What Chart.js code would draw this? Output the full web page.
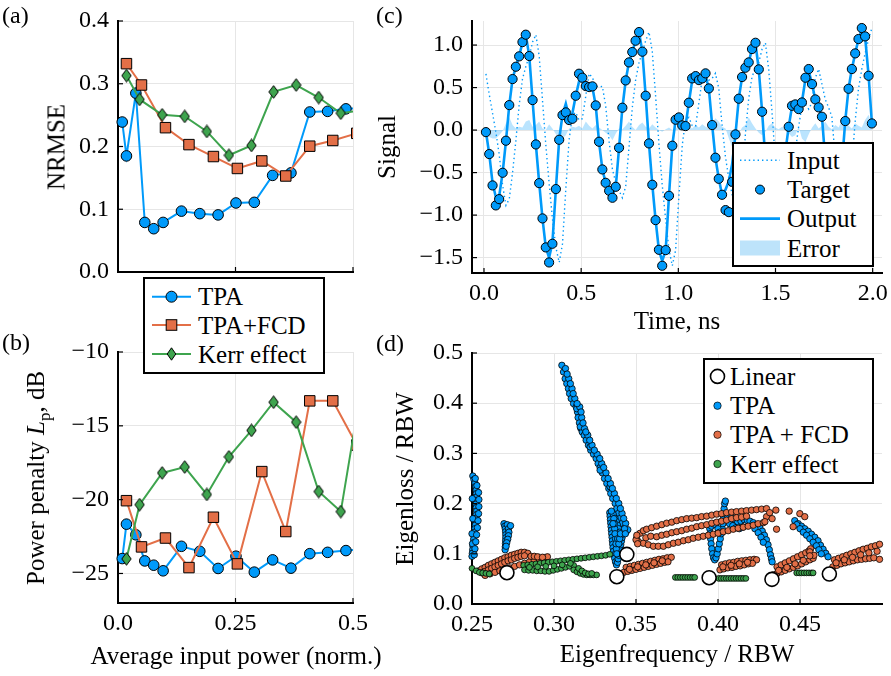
<!DOCTYPE html>
<html>
<head>
<meta charset="utf-8">
<script src="https://cdn.jsdelivr.net/npm/chart.js@4.4.0/dist/chart.umd.min.js"></script>
<style>
  html, body { margin: 0; padding: 0; background: #fff; }
  #wrap { position: relative; width: 891px; height: 676px; overflow: hidden; font-family: 'Liberation Serif', 'Times New Roman', serif; color: #000; }
  #wrap canvas { position: absolute; left: 0; top: 0; }
  .t { position: absolute; white-space: nowrap; line-height: 1; font-size: 25px; transform: translate(-50%, -50%); }
  .r { transform: translate(-50%, -50%) rotate(-90deg); }
  .lab { position: absolute; font-size: 24px; line-height: 1; }
  svg.leg { position: absolute; z-index: 5; }
  svg.leg text { font-family: 'Liberation Serif', 'Times New Roman', serif; font-size: 25px; fill: #000; }
</style>
</head>
<body>
<div id="wrap">
  <canvas id="ca" width="891" height="676"></canvas>
  <canvas id="cb" width="891" height="676"></canvas>
  <canvas id="cc" width="891" height="676"></canvas>
  <canvas id="cd" width="891" height="676"></canvas>

  <div class="lab" style="left:2px;top:3px">(a)</div>
  <div class="lab" style="left:2px;top:330px">(b)</div>
  <div class="lab" style="left:376px;top:3px">(c)</div>
  <div class="lab" style="left:376px;top:331px">(d)</div>

  <div class="t r" style="left:56px;top:147px">NRMSE</div>
  <div class="t r" style="left:38px;top:478px">Power penalty <i>L</i><sub style="font-size:17px">p</sub>, dB</div>
  <div class="t" style="left:236px;top:655px">Average input power (norm.)</div>
  <div class="t r" style="left:386px;top:147px">Signal</div>
  <div class="t" style="left:677px;top:320px">Time, ns</div>
  <div class="t r" style="left:404px;top:479px">Eigenloss / RBW</div>
  <div class="t" style="left:677px;top:653px">Eigenfrequency / RBW</div>

  <!-- legend (a)/(b) -->
  <svg class="leg" style="left:143px;top:277px" width="182" height="97">
    <rect x="1" y="1" width="180" height="95" fill="#fff" stroke="#000" stroke-width="2"/>
    <line x1="9" y1="19.7" x2="48" y2="19.7" stroke="#009AFA" stroke-width="2"/>
    <circle cx="28.5" cy="19.7" r="5.5" fill="#009AFA" stroke="#000" stroke-width="1"/>
    <text x="55" y="28">TPA</text>
    <line x1="9" y1="48" x2="48" y2="48" stroke="#E36F47" stroke-width="2"/>
    <rect x="23.2" y="42.7" width="10.6" height="10.6" fill="#E36F47" stroke="#000" stroke-width="1"/>
    <text x="55" y="56.5">TPA+FCD</text>
    <line x1="9" y1="77" x2="48" y2="77" stroke="#3EA44E" stroke-width="2"/>
    <polygon points="28.5,70.8 32.8,77 28.5,83.2 24.2,77" fill="#3EA44E" stroke="#000" stroke-width="1"/>
    <text x="55" y="85.5">Kerr effect</text>
  </svg>

  <!-- legend (c) -->
  <svg class="leg" style="left:732px;top:142px" width="142" height="125">
    <rect x="1" y="1" width="140" height="123" fill="#fff" stroke="#000" stroke-width="2"/>
    <line x1="8" y1="18.3" x2="48" y2="18.3" stroke="#009AFA" stroke-width="1.4" stroke-dasharray="1.4 3"/>
    <text x="55" y="26.8">Input</text>
    <circle cx="28" cy="47.6" r="4.5" fill="#009AFA" stroke="#000" stroke-width="1"/>
    <text x="55" y="56.1">Target</text>
    <line x1="8" y1="76.6" x2="48" y2="76.6" stroke="#009AFA" stroke-width="2.6"/>
    <text x="55" y="85.1">Output</text>
    <rect x="8" y="98.5" width="40" height="15" fill="#BDE3FA"/>
    <text x="55" y="114.5">Error</text>
  </svg>

  <!-- legend (d) -->
  <svg class="leg" style="left:703px;top:358px" width="171" height="126">
    <rect x="1" y="1" width="169" height="124" fill="#fff" stroke="#000" stroke-width="2"/>
    <circle cx="14.5" cy="18.4" r="7" fill="#fff" stroke="#000" stroke-width="1.6"/>
    <text x="27" y="26.9">Linear</text>
    <circle cx="14.5" cy="47.7" r="3.7" fill="#009AFA" stroke="#000" stroke-width="0.7"/>
    <text x="27" y="56.2">TPA</text>
    <circle cx="14.5" cy="76.7" r="3.7" fill="#E36F47" stroke="#000" stroke-width="0.7"/>
    <text x="27" y="85.2">TPA + FCD</text>
    <circle cx="14.5" cy="106" r="3.7" fill="#3EA44E" stroke="#000" stroke-width="0.7"/>
    <text x="27" y="114.5">Kerr effect</text>
  </svg>
</div>

<script>
// ---------------- DATA ----------------
// (a)/(b): average input power (normalised) per series
const powerTPA  = [0.009, 0.018, 0.038, 0.057, 0.076, 0.096, 0.135, 0.174, 0.213, 0.251, 0.290, 0.329, 0.368, 0.408, 0.446, 0.485, 0.524];
const nrmseTPA  = [0.239, 0.185, 0.285, 0.079, 0.069, 0.079, 0.097, 0.093, 0.091, 0.110, 0.111, 0.154, 0.158, 0.255, 0.256, 0.260, 0.261];
const penaltyTPA = [-23.99, -21.66, -22.38, -24.15, -24.44, -24.82, -23.16, -23.50, -24.66, -23.83, -24.91, -24.08, -24.64, -23.66, -23.57, -23.45, -23.35];

const powerFCD  = [0.018, 0.050, 0.101, 0.151, 0.203, 0.254, 0.306, 0.357, 0.408, 0.457, 0.508];
const nrmseFCD  = [0.332, 0.298, 0.230, 0.203, 0.184, 0.165, 0.177, 0.153, 0.2005, 0.2096, 0.221];
const penaltyFCD = [-20.07, -23.20, -22.60, -24.60, -21.19, -24.35, -18.10, -22.16, -13.31, -13.31, -16.30];

const powerKerr = [0.018, 0.046, 0.094, 0.142, 0.189, 0.236, 0.284, 0.331, 0.379, 0.427, 0.474, 0.521];
const nrmseKerr = [0.313, 0.275, 0.2505, 0.248, 0.224, 0.186, 0.2016, 0.287, 0.298, 0.278, 0.253, 0.258];
const penaltyKerr = [-24.01, -20.34, -18.19, -17.79, -19.65, -17.10, -15.31, -13.40, -14.75, -19.45, -20.81, -11.80];

const powerTicks = [0, 0.25, 0.5];
const powerTickLabels = ['0.0', '0.25', '0.5'];
const nrmseTicks = [0, 0.1, 0.2, 0.3, 0.4];
const nrmseTickLabels = ['0.0', '0.1', '0.2', '0.3', '0.4'];
const penaltyTicks = [-25, -20, -15, -10];
const penaltyTickLabels = ['\u221225', '\u221220', '\u221215', '\u221210'];

// (c): time series (ns)
const cTime = [0.010,0.027,0.044,0.061,0.078,0.096,0.113,0.130,0.147,0.164,
  0.181,0.198,0.215,0.233,0.250,0.267,0.284,0.301,0.318,0.335,
  0.352,0.370,0.387,0.404,0.421,0.438,0.455,0.472,0.489,0.506,
  0.524,0.541,0.558,0.575,0.592,0.609,0.626,0.644,0.661,0.678,
  0.695,0.712,0.729,0.746,0.763,0.780,0.798,0.815,0.832,0.849,
  0.866,0.883,0.900,0.917,0.935,0.952,0.969,0.986,1.003,1.020,
  1.037,1.054,1.071,1.089,1.106,1.123,1.140,1.157,1.174,1.191,
  1.208,1.225,1.243,1.260,1.277,1.294,1.311,1.328,1.345,1.362,
  1.379,1.397,1.414,1.431,1.448,1.465,1.482,1.499,1.516,1.534,
  1.551,1.568,1.585,1.602,1.619,1.636,1.654,1.671,1.688,1.705,
  1.722,1.739,1.756,1.773,1.790,1.808,1.825,1.842,1.859,1.876,
  1.893,1.910,1.927,1.944,1.961,1.979,1.996];
const cTarget = [-0.024,-0.282,-0.651,-0.886,-0.812,-0.502,-0.125,0.294,0.600,0.745,
  0.867,1.035,1.122,0.871,0.353,-0.169,-0.624,-1.039,-1.380,-1.557,
  -1.337,-0.694,-0.114,0.176,0.208,0.118,0.133,0.404,0.663,0.616,
  0.518,0.506,0.514,0.290,-0.137,-0.463,-0.620,-0.714,-0.796,-0.667,
  -0.208,0.263,0.584,0.796,0.918,1.051,1.153,0.922,0.404,-0.157,
  -0.643,-1.059,-1.408,-1.596,-1.412,-0.773,-0.184,0.122,0.149,0.055,
  0.047,0.322,0.608,0.635,0.588,0.608,0.667,0.490,0.059,-0.325,
  -0.573,-0.761,-0.941,-0.965,-0.608,-0.051,0.369,0.624,0.733,0.796,
  0.953,1.027,0.714,0.216,-0.350,-0.850,-1.250,-1.380,-1.150,-0.700,
  -0.250,0.039,0.286,0.302,0.247,0.325,0.616,0.718,0.541,0.361,
  0.267,0.157,-0.350,-0.750,-1.000,-1.050,-0.800,-0.400,0.106,0.486,
  0.718,0.902,1.071,1.200,1.102,0.639,0.078];
const cOutput = [-0.02,-0.28,-0.62,-0.79,-0.78,-0.50,-0.13,0.29,0.60,0.75,
  0.87,1.03,1.12,0.87,0.35,-0.17,-0.62,-1.04,-1.38,-1.50,
  -1.33,-0.69,-0.11,0.18,0.31,0.15,0.20,0.40,0.57,0.58,
  0.54,0.52,0.50,0.29,-0.14,-0.46,-0.62,-0.71,-0.77,-0.67,
  -0.21,0.26,0.58,0.80,0.92,1.05,1.15,0.92,0.40,-0.16,
  -0.64,-1.06,-1.41,-1.54,-1.41,-0.77,-0.18,0.12,0.15,0.06,
  0.05,0.32,0.58,0.62,0.60,0.61,0.64,0.49,0.06,-0.33,
  -0.57,-0.76,-0.70,-0.60,-0.40,-0.05,0.37,0.62,0.73,0.80,
  0.95,1.02,0.71,0.22,-0.35,-0.85,-1.25,-1.38,-1.15,-0.70,
  -0.25,0.04,0.28,0.30,0.26,0.33,0.60,0.70,0.54,0.36,
  0.27,0.16,-0.35,-0.75,-1.00,-1.05,-0.80,-0.40,0.11,0.49,
  0.72,0.90,1.07,1.18,1.10,0.64,0.08];
const cInput = [0.66,0.42,0.20,-0.024,-0.282,-0.651,-0.886,-0.812,-0.502,-0.125,
  0.294,0.600,0.745,0.867,1.035,1.122,0.871,0.353,-0.169,-0.624,
  -1.039,-1.380,-1.557,-1.337,-0.694,-0.114,0.176,0.208,0.118,0.133,
  0.404,0.663,0.616,0.518,0.506,0.514,0.290,-0.137,-0.463,-0.620,
  -0.714,-0.796,-0.667,-0.208,0.263,0.584,0.796,0.918,1.051,1.153,
  0.922,0.404,-0.157,-0.643,-1.059,-1.408,-1.596,-1.412,-0.773,-0.184,
  0.122,0.149,0.055,0.047,0.322,0.608,0.635,0.588,0.608,0.667,
  0.490,0.059,-0.325,-0.573,-0.761,-0.941,-0.965,-0.608,-0.051,0.369,
  0.624,0.733,0.796,0.953,1.027,0.714,0.216,-0.350,-0.850,-1.250,
  -1.380,-1.150,-0.700,-0.250,0.039,0.286,0.302,0.247,0.325,0.616,
  0.718,0.541,0.361,0.267,0.157,-0.350,-0.750,-1.000,-1.050,-0.800,
  -0.400,0.106,0.486,0.718,0.902,1.071,1.200];
const cError = [-0.03,-0.08,-0.10,-0.10,-0.06,-0.01,0.08,0.15,0.06,0.02,
  0.04,0.03,0.10,0.12,0.04,0.06,0.10,0.02,0.00,0.07,
  0.02,-0.05,-0.08,-0.10,-0.06,0.02,0.04,0.03,0.05,0.02,
  0.10,0.05,0.02,0.06,0.03,0.00,-0.03,-0.06,-0.12,-0.04,
  0.02,0.01,0.05,0.10,0.04,0.00,0.06,0.09,0.04,0.02,
  0.07,0.03,0.00,-0.02,0.01,0.03,0.00,0.02,0.05,0.03,
  0.01,0.04,0.02,0.06,0.03,0.07,0.04,0.02,0.08,0.14,
  0.10,0.04,0.02,-0.10,-0.20,-0.12,-0.04,0.03,0.06,0.15,
  0.08,0.02,-0.03,-0.06,-0.02,0.05,0.08,0.03,0.01,0.04,
  0.02,-0.04,-0.08,-0.06,0.04,-0.10,-0.14,-0.05,0.03,0.08,
  0.02,0.05,0.10,0.04,0.01,0.06,0.03,0.12,0.18,0.05,
  0.02,0.08,0.05,0.03,0.12,0.18,0.06];
const timeTicks = [0, 0.5, 1, 1.5, 2];
const timeTickLabels = ['0.0', '0.5', '1.0', '1.5', '2.0'];
const signalTicks = [-1.5, -1, -0.5, 0, 0.5, 1];
const signalTickLabels = ['\u22121.5', '\u22121.0', '\u22120.5', '0.0', '0.5', '1.0'];

// (d): [eigenfrequency, eigenloss] / RBW
const dLinear = [[0.2713,0.0623],[0.3383,0.0544],[0.3444,0.0988],[0.3946,0.0524],[0.4329,0.0491],[0.4679,0.0597]];
const dTPA = [
  [0.2505,0.255],[0.2512,0.248],[0.2518,0.241],[0.2522,0.234],[0.2525,0.227],[0.2527,0.220],[0.2528,0.213],[0.2526,0.206],[0.2524,0.199],[0.2526,0.192],[0.2528,0.185],[0.2527,0.178],[0.2525,0.171],[0.2522,0.164],[0.2520,0.157],[0.2518,0.150],[0.2515,0.143],[0.2512,0.136],[0.2510,0.129],[0.2508,0.122],[0.2506,0.115],[0.2504,0.108],[0.2502,0.101],[0.2500,0.095],[0.2502,0.210],[0.2505,0.170],[0.2500,0.140],[0.2503,0.120],
  [0.2520,0.250],[0.2530,0.236],[0.2540,0.222],[0.2542,0.208],[0.2542,0.194],[0.2540,0.180],[0.2537,0.166],[0.2533,0.152],[0.2528,0.138],[0.2523,0.124],[0.2518,0.110],[0.2514,0.098],
  [0.2695,0.160],[0.2700,0.155],[0.2703,0.150],[0.2705,0.144],[0.2706,0.138],[0.2706,0.132],[0.2705,0.126],[0.2704,0.120],[0.2703,0.114],[0.2702,0.108],[0.2715,0.158],[0.2722,0.150],[0.2725,0.143],[0.2722,0.136],[0.2718,0.129],[0.2712,0.122],[0.2708,0.115],[0.2735,0.156],
  [0.3048,0.4755],[0.3058,0.4622],[0.3068,0.4489],[0.3078,0.4390],[0.3088,0.4290],[0.3095,0.4191],[0.3105,0.4092],[0.3119,0.3992],[0.3135,0.3926],[0.3143,0.3826],[0.3147,0.3714],[0.3155,0.3607],[0.3164,0.3495],[0.3172,0.3428],[0.3184,0.3362],[0.3196,0.3263],[0.3210,0.3163],[0.3224,0.3064],[0.3241,0.2984],[0.3257,0.2898],[0.3269,0.2798],[0.3281,0.2719],[0.3295,0.2613],[0.3308,0.2500],[0.3322,0.2401],[0.3334,0.2301],[0.3346,0.2202],[0.3358,0.2102],[0.3373,0.2003],[0.3383,0.1903],[0.3393,0.1804],[0.3403,0.1704],[0.3415,0.1605],[0.3427,0.1505],[0.3440,0.1439],
  [0.3139,0.389],[0.3160,0.353],[0.3220,0.313],[0.3281,0.2666],[0.3342,0.2334],
  [0.3070,0.4690],[0.3090,0.4489],[0.3110,0.4290],[0.3127,0.4092],[0.3157,0.3926],[0.3169,0.3714],[0.3186,0.3495],[0.3206,0.3362],[0.3232,0.3163],[0.3263,0.2984],[0.3291,0.2798],[0.3317,0.2613],[0.3344,0.2401],[0.3368,0.2202],[0.3395,0.2003],[0.3415,0.1804],[0.3437,0.1605],[0.3450,0.1480],
  [0.3080,0.4580],[0.3100,0.4390],[0.3117,0.4191],[0.3141,0.3992],[0.3165,0.3826],[0.3177,0.3607],[0.3194,0.3428],[0.3218,0.3263],[0.3246,0.3064],[0.3279,0.2898],[0.3303,0.2719],[0.3330,0.2500],[0.3356,0.2301],[0.3380,0.2102],[0.3405,0.1903],[0.3425,0.1704],
  [0.3340,0.182],[0.3342,0.175],[0.3344,0.168],[0.3346,0.161],[0.3348,0.154],[0.3350,0.147],[0.3352,0.140],[0.3354,0.133],[0.3356,0.126],[0.3358,0.119],[0.3360,0.112],[0.3363,0.105],[0.3366,0.098],[0.3370,0.091],[0.3375,0.084],[0.3381,0.078],[0.3387,0.083],[0.3391,0.090],[0.3395,0.097],[0.3399,0.104],[0.3403,0.111],[0.3407,0.118],[0.3411,0.125],[0.3415,0.132],[0.3419,0.139],[0.3423,0.146],[0.3362,0.178],[0.3372,0.171],[0.3380,0.164],[0.3387,0.157],[0.3394,0.150],[0.3400,0.143],[0.3370,0.150],[0.3375,0.130],[0.3380,0.110],
  [0.3365,0.170],[0.3368,0.160],[0.3372,0.140],[0.3378,0.120],[0.3383,0.100],[0.3388,0.130],[0.3395,0.120],[0.3400,0.130],[0.3405,0.140],[0.3360,0.160],[0.3350,0.185],[0.3430,0.150],[0.3435,0.140],
  [0.3950,0.150],[0.3952,0.140],[0.3955,0.130],[0.3958,0.120],[0.3962,0.110],[0.3967,0.100],[0.3973,0.092],[0.3980,0.088],[0.3988,0.092],[0.3995,0.100],[0.4002,0.110],[0.4008,0.120],[0.4014,0.130],[0.4020,0.140],[0.4026,0.150],[0.4030,0.160],[0.4033,0.170],[0.4035,0.180],[0.4037,0.190],[0.4040,0.200],[0.4045,0.205],[0.3960,0.155],[0.3970,0.160],[0.3985,0.158],[0.4000,0.150],[0.4010,0.143],
  [0.4060,0.175],[0.4080,0.172],[0.4100,0.168],[0.4120,0.163],[0.4140,0.165],[0.4160,0.168],[0.4180,0.166],[0.4070,0.160],[0.4090,0.156],[0.4110,0.152],[0.4130,0.150],[0.4150,0.153],
  [0.4195,0.165],[0.4215,0.162],[0.4235,0.158],[0.4255,0.152],[0.4270,0.145],[0.4283,0.137],[0.4295,0.128],[0.4305,0.118],[0.4313,0.108],[0.4320,0.098],[0.4326,0.090],[0.4330,0.084],[0.4225,0.150],[0.4245,0.142],[0.4262,0.133],[0.4276,0.123],
  [0.4468,0.166],[0.4489,0.160],[0.4509,0.155],[0.4529,0.150],[0.4550,0.145],[0.4570,0.139],[0.4590,0.133],[0.4610,0.126],[0.4625,0.117],[0.4641,0.109],[0.4657,0.101],[0.4671,0.094],[0.4480,0.158],[0.4500,0.150],[0.4520,0.143],[0.4540,0.137],[0.4560,0.130],[0.4580,0.123],[0.4600,0.116],[0.4615,0.108],[0.4630,0.100]
];
const dFCD = [
  [0.2540,0.066],[0.2560,0.070],[0.2580,0.073],[0.2600,0.077],[0.2620,0.080],[0.2640,0.083],[0.2660,0.086],[0.2680,0.089],[0.2700,0.092],[0.2720,0.094],[0.2740,0.097],[0.2760,0.099],[0.2780,0.101],[0.2800,0.103],[0.2820,0.103],[0.2840,0.101],
  [0.2560,0.062],[0.2580,0.065],[0.2600,0.068],[0.2620,0.071],[0.2640,0.074],[0.2660,0.077],[0.2680,0.080],[0.2700,0.083],[0.2720,0.086],[0.2740,0.088],[0.2760,0.091],[0.2780,0.093],[0.2800,0.095],[0.2820,0.096],
  [0.2580,0.057],[0.2610,0.060],[0.2640,0.063],[0.2670,0.066],[0.2700,0.069],[0.2730,0.072],[0.2760,0.075],[0.2790,0.078],[0.2820,0.081],[0.2850,0.084],[0.2880,0.087],[0.2910,0.089],[0.2940,0.092],[0.2960,0.094],
  [0.2860,0.095],[0.2880,0.095],[0.2900,0.094],[0.2930,0.093],
  [0.3440,0.073],[0.3465,0.075],[0.3490,0.077],[0.3515,0.079],[0.3540,0.081],[0.3565,0.083],[0.3590,0.085],[0.3615,0.087],[0.3640,0.089],[0.3665,0.090],[0.3690,0.092],[0.3715,0.093],
  [0.3425,0.063],[0.3450,0.065],[0.3475,0.067],[0.3500,0.069],[0.3525,0.071],[0.3550,0.073],[0.3575,0.075],[0.3600,0.077],[0.3625,0.079],[0.3650,0.081],[0.3675,0.083],[0.3695,0.084],
  [0.3460,0.069],[0.3510,0.074],[0.3560,0.078],[0.3610,0.082],[0.3660,0.086],
  [0.3504,0.131],[0.3525,0.141],[0.3545,0.146],[0.3565,0.149],[0.3595,0.152],[0.3626,0.155],[0.3657,0.158],[0.3687,0.161],[0.3718,0.163],[0.3748,0.166],[0.3779,0.168],[0.3809,0.170],[0.3840,0.171],[0.3870,0.172],[0.3900,0.174],[0.3931,0.175],[0.3962,0.177],[0.3992,0.179],[0.4022,0.180],[0.4052,0.182],[0.4083,0.183],[0.4113,0.184],[0.4144,0.185],[0.4174,0.186],[0.4205,0.187],[0.4235,0.188],[0.4266,0.189],[0.4296,0.190],
  [0.3515,0.124],[0.3545,0.121],[0.3575,0.118],[0.3606,0.115],[0.3636,0.115],[0.3667,0.115],[0.3697,0.118],[0.3728,0.121],[0.3758,0.123],[0.3789,0.126],[0.3819,0.128],[0.3849,0.131],[0.3880,0.133],[0.3910,0.135],[0.3941,0.137],[0.3971,0.139],[0.4001,0.141],[0.4032,0.144],[0.4062,0.146],[0.4093,0.149],[0.4123,0.151],[0.4154,0.153],[0.4184,0.155],[0.4215,0.157],[0.4245,0.160],[0.4276,0.162],
  [0.3560,0.132],[0.3590,0.135],[0.3626,0.134],[0.3657,0.137],[0.3687,0.139],[0.3718,0.142],[0.3748,0.144],[0.3779,0.146],[0.3809,0.149],[0.3840,0.151],[0.3870,0.154],[0.3900,0.156],[0.3931,0.158],[0.3962,0.161],[0.3992,0.163],[0.4022,0.165],[0.4052,0.167],[0.4083,0.170],[0.4113,0.172],[0.4144,0.173],[0.4174,0.175],
  [0.4353,0.187],[0.4434,0.185],[0.4499,0.180],[0.4529,0.174],[0.4357,0.149],[0.4458,0.154],[0.4296,0.174],[0.4286,0.164],[0.4315,0.182],[0.4330,0.170],
  [0.3500,0.128],[0.3505,0.137],[0.3510,0.120],
  [0.4022,0.078],[0.4045,0.080],[0.4070,0.082],[0.4095,0.083],[0.4120,0.085],[0.4145,0.086],[0.4170,0.087],[0.4195,0.088],[0.4220,0.089],[0.4235,0.088],
  [0.4012,0.068],[0.4035,0.070],[0.4060,0.072],[0.4085,0.073],[0.4110,0.075],[0.4135,0.076],[0.4160,0.078],[0.4185,0.080],[0.4210,0.081],
  [0.4030,0.074],[0.4080,0.077],[0.4130,0.080],[0.4180,0.083],
  [0.4360,0.074],[0.4385,0.078],[0.4410,0.082],[0.4435,0.086],[0.4460,0.090],[0.4485,0.094],[0.4510,0.098],[0.4535,0.102],[0.4555,0.106],[0.4565,0.110],[0.4560,0.104],
  [0.4336,0.058],[0.4360,0.061],[0.4385,0.064],[0.4410,0.067],[0.4435,0.070],[0.4460,0.073],[0.4485,0.076],[0.4510,0.080],[0.4535,0.084],[0.4560,0.088],[0.4580,0.091],[0.4585,0.097],
  [0.4370,0.067],[0.4420,0.073],[0.4470,0.080],[0.4520,0.087],[0.4560,0.096],
  [0.4710,0.088],[0.4735,0.091],[0.4760,0.094],[0.4785,0.097],[0.4810,0.100],[0.4835,0.103],[0.4860,0.106],[0.4885,0.109],[0.4910,0.111],[0.4935,0.114],[0.4960,0.116],[0.4985,0.119],
  [0.4700,0.074],[0.4725,0.077],[0.4750,0.080],[0.4775,0.082],[0.4800,0.084],[0.4825,0.086],[0.4850,0.088],[0.4875,0.089],[0.4900,0.090],[0.4925,0.091],[0.4950,0.092],[0.4985,0.089],
  [0.4720,0.082],[0.4770,0.088],[0.4820,0.093],[0.4870,0.098],[0.4920,0.102],[0.4970,0.105]
];
const dKerr = [
  [0.2500,0.071],[0.2525,0.066],[0.2545,0.063],[0.2565,0.062],[0.2585,0.061],[0.2605,0.060],
  [0.2815,0.077],[0.2840,0.078],[0.2865,0.079],[0.2890,0.080],[0.2915,0.081],[0.2940,0.082],[0.2965,0.083],[0.2990,0.084],[0.3015,0.085],[0.3040,0.086],[0.3065,0.087],[0.3090,0.088],[0.3115,0.089],[0.3140,0.090],[0.3165,0.091],[0.3190,0.092],[0.3215,0.093],[0.3240,0.094],[0.3265,0.095],[0.3290,0.096],[0.3315,0.097],[0.3340,0.099],
  [0.2820,0.068],[0.2845,0.067],[0.2870,0.067],[0.2895,0.066],[0.2920,0.066],[0.2945,0.065],[0.2970,0.065],[0.2995,0.067],[0.3020,0.069],[0.3045,0.071],[0.3070,0.073],[0.3095,0.075],[0.3120,0.077],
  [0.2850,0.073],[0.2900,0.074],[0.2950,0.075],[0.3000,0.076],[0.3050,0.078],[0.3100,0.081],
  [0.3120,0.068],[0.3140,0.064],[0.3160,0.061],[0.3180,0.059],[0.3200,0.058],[0.3220,0.058],[0.3240,0.058],[0.3260,0.058],[0.3150,0.071],[0.3170,0.066],[0.3190,0.062],[0.3210,0.060],[0.3230,0.061],
  [0.3740,0.053],[0.3755,0.053],[0.3770,0.053],[0.3785,0.053],[0.3800,0.053],[0.3815,0.053],[0.3830,0.053],[0.3845,0.053],[0.3858,0.053],
  [0.4005,0.051],[0.4020,0.051],[0.4035,0.051],[0.4050,0.051],[0.4065,0.051],[0.4080,0.051],[0.4095,0.051],[0.4110,0.051],[0.4125,0.051],[0.4140,0.051],[0.4155,0.051],[0.4170,0.051],
  [0.4480,0.062],[0.4495,0.062],[0.4510,0.062],[0.4525,0.062],[0.4540,0.062],[0.4555,0.062],[0.4570,0.062],[0.4580,0.062]
];
const freqTicks = [0.25, 0.30, 0.35, 0.40, 0.45];
const freqTickLabels = ['0.25', '0.30', '0.35', '0.40', '0.45'];
const lossTicks = [0, 0.1, 0.2, 0.3, 0.4, 0.5];
const lossTickLabels = ['0.0', '0.1', '0.2', '0.3', '0.4', '0.5'];

// ---------------- STYLE / BUILD ----------------
const BLUE = '#009AFA', ORANGE = '#E36F47', GREEN = '#3EA44E';
const W = 891, H = 676;
const FONT = "'Liberation Serif', 'Times New Roman', serif";

function xy(xs, ys) { return xs.map((x, i) => ({ x: x, y: ys[i] })); }
function pairs(arr) { return arr.map(p => ({ x: p[0], y: p[1] })); }

function makeDiamond() {
  const c = document.createElement('canvas');
  c.width = 11; c.height = 14;
  const g = c.getContext('2d');
  g.beginPath();
  g.moveTo(5.5, 0.7); g.lineTo(10.2, 7); g.lineTo(5.5, 13.3); g.lineTo(0.8, 7); g.closePath();
  g.fillStyle = GREEN; g.fill();
  g.lineWidth = 1; g.strokeStyle = '#000'; g.stroke();
  return c;
}
const diamond = makeDiamond();

const insideTicks = {
  id: 'insideTicks',
  afterDraw(chart) {
    const ctx = chart.ctx, a = chart.chartArea, x = chart.scales.x, y = chart.scales.y;
    ctx.save();
    ctx.strokeStyle = '#000';
    ctx.lineWidth = 1.2;
    x.ticks.forEach(t => {
      const px = x.getPixelForValue(t.value);
      ctx.beginPath(); ctx.moveTo(px, a.bottom); ctx.lineTo(px, a.bottom - 5); ctx.stroke();
    });
    y.ticks.forEach(t => {
      const py = y.getPixelForValue(t.value);
      ctx.beginPath(); ctx.moveTo(a.left, py); ctx.lineTo(a.left + 5, py); ctx.stroke();
    });
    ctx.restore();
  }
};

function panel(id, area, xs, ys, datasets) {
  const yW = 60, xH = 50;
  return new Chart(document.getElementById(id), {
    type: 'scatter',
    data: { datasets: datasets },
    options: {
      responsive: false,
      animation: false,
      devicePixelRatio: 1,
      events: [],
      layout: { padding: { left: area.l - yW, right: W - area.r, top: area.t, bottom: H - area.b - xH } },
      plugins: { legend: { display: false }, tooltip: { enabled: false } },
      scales: {
        x: {
          type: 'linear', position: 'bottom', min: xs.min, max: xs.max,
          afterBuildTicks: s => { s.ticks = xs.ticks.map(v => ({ value: v })); },
          afterFit: s => { s.height = xH; s.paddingLeft = 0; s.paddingRight = 0; },
          grid: { color: '#e6e6e6', lineWidth: 1, drawTicks: false },
          border: { display: true, color: '#000', width: 2 },
          ticks: { display: xs.show !== false, padding: 6, color: '#000', maxRotation: 0, autoSkip: false,
                   font: { family: FONT, size: 24 }, callback: (v, i) => xs.labels[i] }
        },
        y: {
          type: 'linear', position: 'left', min: ys.min, max: ys.max,
          afterBuildTicks: s => { s.ticks = ys.ticks.map(v => ({ value: v })); },
          afterFit: s => { s.width = yW; s.paddingTop = 0; s.paddingBottom = 0; },
          grid: { color: '#e6e6e6', lineWidth: 1, drawTicks: false },
          border: { display: true, color: '#000', width: 2 },
          ticks: { padding: 9, color: '#000', autoSkip: false,
                   font: { family: FONT, size: 24 }, callback: (v, i) => ys.labels[i] }
        }
      }
    },
    plugins: [insideTicks]
  });
}

const lineClip = { left: 8, top: 8, right: 0, bottom: 8 };
function seriesLine(data, color, style, radius, order) {
  return { data: data, showLine: true, borderColor: color, borderWidth: 2,
           pointStyle: style, pointRadius: radius, pointBackgroundColor: color,
           pointBorderColor: '#000', pointBorderWidth: 1, order: order, clip: lineClip };
}

// (a) NRMSE
panel('ca', { l: 118, r: 353, t: 21, b: 272 },
  { min: 0, max: 0.5, ticks: powerTicks, labels: powerTickLabels, show: false },
  { min: 0, max: 0.4, ticks: nrmseTicks, labels: nrmseTickLabels },
  [
    seriesLine(xy(powerTPA, nrmseTPA), BLUE, 'circle', 5.3, 3),
    seriesLine(xy(powerFCD, nrmseFCD), ORANGE, 'rect', 7.4, 2),
    seriesLine(xy(powerKerr, nrmseKerr), GREEN, diamond, 6, 1)
  ]);

// (b) power penalty
panel('cb', { l: 118, r: 353, t: 352, b: 603 },
  { min: 0, max: 0.5, ticks: powerTicks, labels: powerTickLabels },
  { min: -27, max: -10, ticks: penaltyTicks, labels: penaltyTickLabels },
  [
    seriesLine(xy(powerTPA, penaltyTPA), BLUE, 'circle', 5.3, 3),
    seriesLine(xy(powerFCD, penaltyFCD), ORANGE, 'rect', 7.4, 2),
    seriesLine(xy(powerKerr, penaltyKerr), GREEN, diamond, 6, 1)
  ]);

// (c) signals
panel('cc', { l: 472, r: 882, t: 21, b: 273 },
  { min: -0.0617, max: 2.048, ticks: timeTicks, labels: timeTickLabels },
  { min: -1.681, max: 1.283, ticks: signalTicks, labels: signalTickLabels },
  [
    { data: xy(cTime, cError), showLine: true, fill: 'origin', backgroundColor: 'rgba(0,154,250,0.27)',
      borderWidth: 0, borderColor: 'rgba(0,0,0,0)', pointRadius: 0, order: 4 },
    { data: xy(cTime, cInput), showLine: true, borderColor: BLUE, borderWidth: 1.4, borderDash: [1.4, 3],
      pointRadius: 0, order: 3 },
    { data: xy(cTime, cOutput), showLine: true, borderColor: BLUE, borderWidth: 2.6, pointRadius: 0, order: 2 },
    { data: xy(cTime, cTarget), showLine: false, pointRadius: 4.6, pointBackgroundColor: BLUE,
      pointBorderColor: '#000', pointBorderWidth: 1, order: 1 }
  ]);

// (d) eigenvalues
panel('cd', { l: 472, r: 882, t: 353, b: 604 },
  { min: 0.25, max: 0.5, ticks: freqTicks, labels: freqTickLabels },
  { min: 0, max: 0.5, ticks: lossTicks, labels: lossTickLabels },
  [
    { data: pairs(dLinear), pointRadius: 7, pointBackgroundColor: '#fff', pointBorderColor: '#000',
      pointBorderWidth: 1.6, order: 0, clip: false },
    { data: pairs(dKerr), pointRadius: 2.9, pointBackgroundColor: GREEN, pointBorderColor: '#000',
      pointBorderWidth: 0.8, order: 1, clip: false },
    { data: pairs(dFCD), pointRadius: 3.2, pointBackgroundColor: ORANGE, pointBorderColor: '#000',
      pointBorderWidth: 0.8, order: 2, clip: false },
    { data: pairs(dTPA), pointRadius: 3.2, pointBackgroundColor: BLUE, pointBorderColor: '#000',
      pointBorderWidth: 0.8, order: 3, clip: false }
  ]);
</script>
</body>
</html>
